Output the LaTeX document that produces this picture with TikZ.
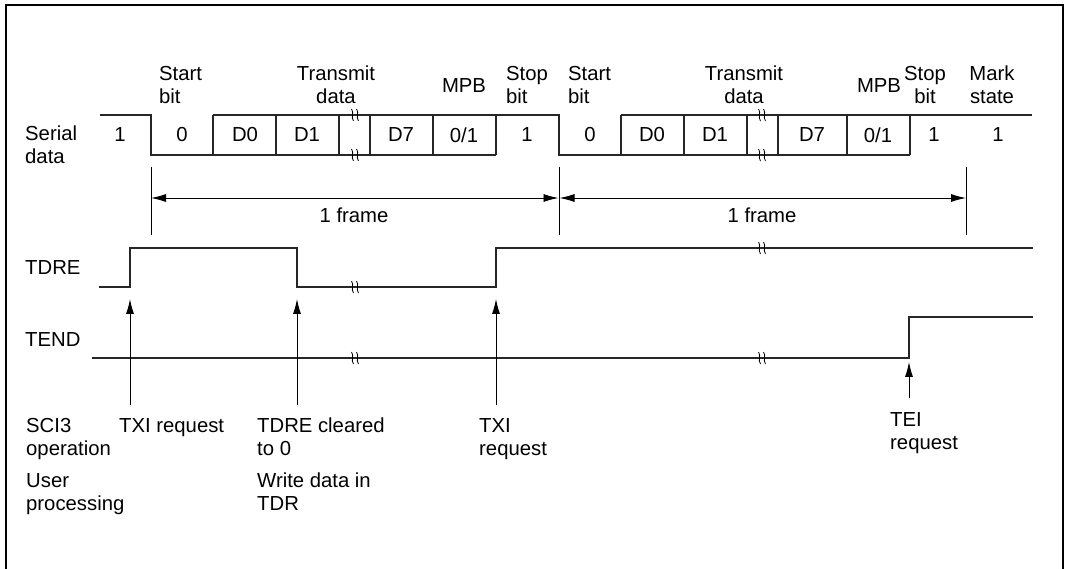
\documentclass[tikz,border=0pt]{standalone}
\usepackage{fontspec}
\setmainfont{Liberation Sans}
\usetikzlibrary{arrows.meta}
\begin{document}
\begin{tikzpicture}[x=1pt,y=-1pt,
  font=\fontsize{20.3}{23}\selectfont,
  wave/.style={line width=1.2pt,draw=black!85},
  tick/.style={line width=0.8pt},
  reqarrow/.style={line width=0.9pt,-{Latex[length=15pt,width=8pt]}},
  dimarrow/.style={line width=0.9pt,{Latex[length=15pt,width=8pt]}-{Latex[length=15pt,width=8pt]}},
  lbl/.style={inner sep=0pt,align=left},
  clbl/.style={inner sep=0pt,align=center},
  brk/.pic={
    \draw[line width=0.8pt] (-3.5,-6) .. controls (-0.5,-2) and (-4.5,2) .. (-1.5,6);
    \draw[line width=0.8pt] (1.5,-6) .. controls (4.5,-2) and (0.5,2) .. (3.5,6);
  }]
\useasboundingbox (0,0) rectangle (1066,569);
% outer frame
\draw[line width=1.6pt] (6,569) -- (6,5) -- (1063,5) -- (1063,569);

% ---------- serial data ----------
\draw[wave] (100,115) -- (151,115) -- (151,155) -- (496,155);
\draw[wave] (213,115) -- (559,115) -- (559,155) -- (910,155);
\draw[wave] (621,115) -- (1032,115);
\foreach \x in {213,276,339,370,433,496,621,684,747,778,847,910}
  \draw[wave] (\x,115) -- (\x,155);
\foreach \x in {355,762} {
  \pic at (\x,115) {brk};
  \pic at (\x,155) {brk};
}
\node[inner sep=0pt] (c1) at (120,135) {1};
\node[inner sep=0pt] (c2) at (182,135) {0};
\node[inner sep=0pt] (c3) at (245,135) {D0};
\node[inner sep=0pt] (c4) at (307,135) {D1};
\node[inner sep=0pt] (c5) at (401,135) {D7};
\node[inner sep=0pt] (c6) at (464,135) {0/1};
\node[inner sep=0pt] (c7) at (527,135) {1};
\node[inner sep=0pt] (c8) at (590,135) {0};
\node[inner sep=0pt] (c9) at (652,135) {D0};
\node[inner sep=0pt] (c10) at (715,135) {D1};
\node[inner sep=0pt] (c11) at (812,135) {D7};
\node[inner sep=0pt] (c12) at (878,135) {0/1};
\node[inner sep=0pt] (c13) at (934,135) {1};
\node[inner sep=0pt] (c14) at (998,135) {1};

% top labels
\node[lbl,anchor=west] (st1) at (159,85) {Start\\bit};
\node[clbl] (td1) at (336,85) {Transmit\\data};
\node[inner sep=0pt] (mpb1) at (464,86) {MPB};
\node[lbl,anchor=west] (sp1) at (506,85) {Stop\\bit};
\node[lbl,anchor=west] (st2) at (568,85) {Start\\bit};
\node[clbl] (td2) at (744,85) {Transmit\\data};
\node[inner sep=0pt] (mpb2) at (879,86) {MPB};
\node[clbl] (sp2) at (925,85) {Stop\\bit};
\node[clbl] (mk) at (992,85) {Mark\\state};

% left labels
\node[lbl,anchor=west] (sd) at (25,145) {Serial\\data};
\node[lbl,anchor=west] (tdre) at (25,268) {TDRE};
\node[lbl,anchor=west] (tend) at (25,340) {TEND};

% ---------- frame dimensions ----------
\coordinate (f0t) at (151,167); \coordinate (f0b) at (151,235);
\coordinate (f1t) at (559,167); \coordinate (f1b) at (559,235);
\coordinate (f2t) at (966,167); \coordinate (f2b) at (966,235);
\draw[tick] (f0t) -- (f0b);
\draw[tick] (f1t) -- (f1b);
\draw[tick] (f2t) -- (f2b);
\coordinate (a0) at (151,198);
\coordinate (a1l) at (558.5,198);
\coordinate (a1r) at (559.5,198);
\coordinate (a2) at (966,198);
\draw[dimarrow] (a0) -- (a1l);
\draw[dimarrow] (a1r) -- (a2);
\node[inner sep=0pt] (fr1) at (354,215) {1 frame};
\node[inner sep=0pt] (fr2) at (762,215) {1 frame};

% ---------- TDRE ----------
\draw[wave] (99,287) -- (130,287) -- (130,248) -- (297,248) -- (297,287)
  -- (496,287) -- (496,248) -- (1033,248);
\pic at (355,287) {brk};
\pic at (762,248) {brk};

% ---------- TEND ----------
\draw[wave] (92,358) -- (909,358) -- (909,317) -- (1033,317);
\pic at (355,358) {brk};
\pic at (762,358) {brk};

% ---------- request arrows ----------
\coordinate (r1b) at (130,405); \coordinate (r1t) at (130,299);
\coordinate (r2b) at (297,405); \coordinate (r2t) at (297,299);
\coordinate (r3b) at (496,405); \coordinate (r3t) at (496,299);
\coordinate (r4b) at (909,398); \coordinate (r4t) at (909,362);
\draw[reqarrow] (r1b) -- (r1t);
\draw[reqarrow] (r2b) -- (r2t);
\draw[reqarrow] (r3b) -- (r3t);
\draw[reqarrow] (r4b) -- (r4t);

% ---------- bottom labels ----------
\node[lbl,anchor=north west] (sci) at (26,418) {SCI3\\operation};
\node[lbl,anchor=north west] (usr) at (26,473) {User\\processing};
\node[lbl,anchor=north west] (txi1) at (119,418) {TXI request};
\node[lbl,anchor=north west] (clr) at (257,418) {TDRE cleared\\to 0};
\node[lbl,anchor=north west] (wr) at (257,473) {Write data in\\TDR};
\node[lbl,anchor=north west] (txi2) at (479,418) {TXI\\request};
\node[lbl,anchor=north west] (tei) at (890,412) {TEI\\request};
\end{tikzpicture}
\end{document}
